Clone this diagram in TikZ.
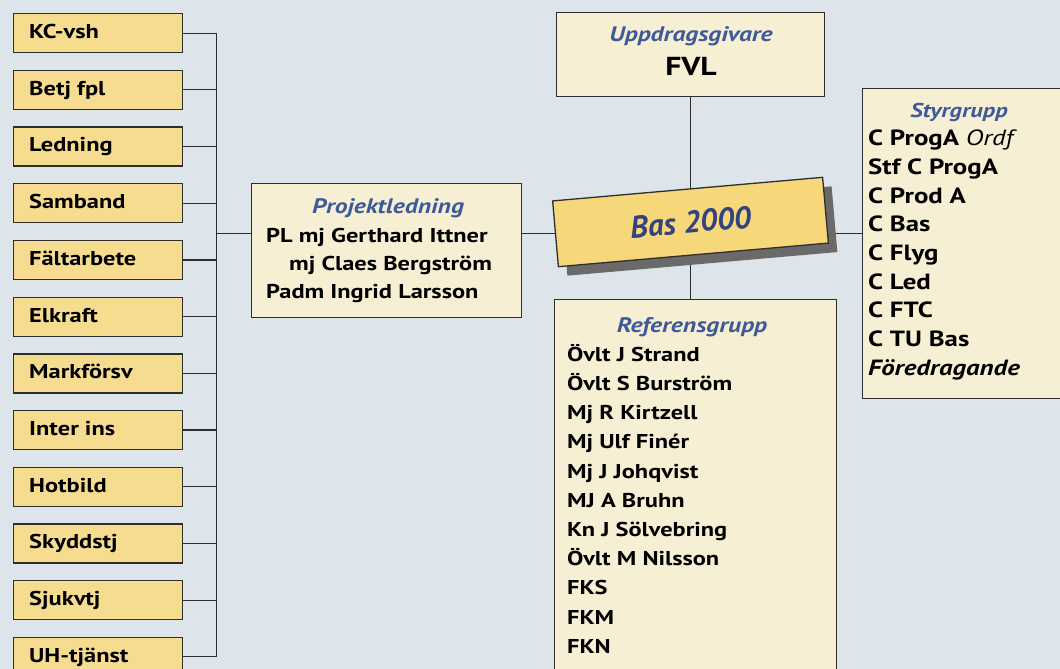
\documentclass[tikz,border=0pt]{standalone}
\usepackage{fontspec}
\setmainfont{PT Sans}[FakeStretch=1.22]
\newfontfamily\basfont{PT Sans}
\usetikzlibrary{backgrounds}
\definecolor{bg}{HTML}{DDE5EB}
\definecolor{leftfill}{HTML}{F5DC8E}
\definecolor{basfill}{HTML}{F6D77A}
\definecolor{cream}{HTML}{F7EFD3}
\definecolor{edge}{HTML}{2E2E2E}
\definecolor{hdrblue}{HTML}{3E5A98}
\definecolor{basblue}{HTML}{34427F}
\definecolor{shadowgray}{HTML}{6A6A6A}
\tikzset{
  conn/.style={draw=edge, line width=1.2pt},
  leftbox/.style={draw=edge, line width=1.3pt, fill=leftfill, minimum width=169pt, minimum height=39pt, anchor=north west, inner sep=0pt},
  creambox/.style={draw=edge, line width=1.3pt, fill=cream, anchor=north west, inner sep=0pt},
  basbox/.style={draw=edge, line width=1.3pt, fill=basfill, minimum width=271pt, minimum height=66pt, inner sep=0pt},
  shadowbox/.style={fill=shadowgray, minimum width=271pt, minimum height=66pt, inner sep=0pt},
  txt/.style={inner sep=0pt, anchor=base west, text=black, font=\bfseries\fontsize{20}{24}\selectfont},
  bigtxt/.style={txt, font=\bfseries\fontsize{22}{26}\selectfont},
  hdr/.style={inner sep=0pt, anchor=base, text=hdrblue, font=\bfseries\itshape\fontsize{21}{24}\selectfont}
}
\begin{document}
\begin{tikzpicture}[x=1pt,y=-1pt]
\useasboundingbox (0,0) rectangle (1060,669);
\clip (0,0) rectangle (1060,669);
% left column
\foreach \t [count=\i from 0] in {KC-vsh,Betj fpl,Ledning,Samband,Fältarbete,Elkraft,Markförsv,Inter ins,Hotbild,Skyddstj,Sjukvtj,UH-tjänst}{
  \node[leftbox] (L\i) at (13,{13+56.7*\i}) {};
  \node[txt] (Lt\i) at (29,{38.5+56.7*\i}) {\t};
}
\coordinate (bus) at (216.5,0);
% Projektledning
\node[creambox, minimum width=270pt, minimum height=134pt] (proj) at (251,183) {};
\node[hdr] (projh) at (388,213) {Projektledning};
\node[txt] (proj1) at (266,242) {PL mj Gerthard Ittner};
\node[txt] (proj2) at (289,270) {mj Claes Bergström};
\node[txt] (proj3) at (266,298) {Padm Ingrid Larsson};
% Uppdragsgivare
\node[creambox, minimum width=268pt, minimum height=84pt] (upp) at (556,12) {};
\node[hdr] (upph) at (691,42) {Uppdragsgivare};
\node[inner sep=0pt, anchor=base, font=\bfseries\fontsize{26}{30}\selectfont] (fvl) at (691,75) {FVL};
% Styrgrupp
\node[creambox, minimum width=215pt, minimum height=310pt] (styr) at (862,88) {};
\node[hdr, font=\bfseries\itshape\fontsize{20}{24}\selectfont] (styrh) at (959,117) {Styrgrupp};
\foreach \t [count=\i from 1] in {C ProgA {\mdseries\itshape Ordf},Stf C ProgA,C Prod A,C Bas,C Flyg,C Led,C FTC,C TU Bas,{\itshape Föredragande}}{
  \node[bigtxt] (st\i) at (868,{117+28.7*\i}) {\t};
}
% Referensgrupp
\node[creambox, minimum width=282pt, minimum height=390pt] (ref) at (554,299) {};
\node[hdr] (refh) at (692,332) {Referensgrupp};
\foreach \t [count=\i from 1] in {Övlt J Strand,Övlt S Burström,Mj R Kirtzell,Mj Ulf Finér,Mj J Johqvist,MJ A Bruhn,Kn J Sölvebring,Övlt M Nilsson,FKS,FKM,FKN}{
  \node[txt] (rf\i) at (567,{332+29.2*\i}) {\t};
}
% Bas 2000
\node[shadowbox, rotate=5] (bassh) at (699.5,231) {};
\node[basbox, rotate=5, text=basblue, font=\basfont\bfseries\itshape\fontsize{31}{35}\selectfont] (bas) at (690.5,222) {Bas 2000};
% connectors
\begin{scope}[on background layer]
\fill[bg] (0,0) rectangle (1060,669);
\foreach \i in {0,...,11}{ \draw[conn] (L\i.east) -- (L\i.east -| bus); }
\draw[conn] (L0.east -| bus) -- (L11.east -| bus);
\draw[conn] (bus |- bas.west) -- (proj.west |- bas.west);
\draw[conn] (proj.east |- bas.west) -- (bas.west);
\draw[conn] (bas.west) -- (styr.west |- bas.west);
\draw[conn] (upp.south) -- (upp.south |- ref.north);
\end{scope}
\end{tikzpicture}
\end{document}
